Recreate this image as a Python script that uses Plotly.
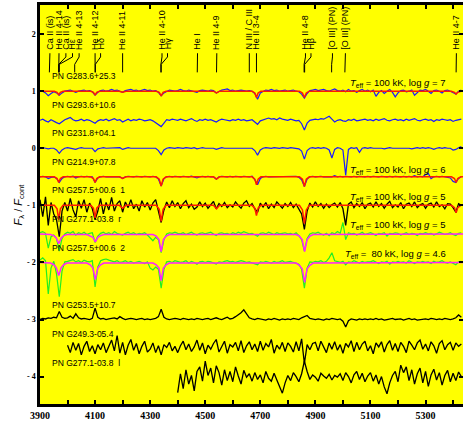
import plotly.graph_objects as go

# ---------------- wavelength grids (Angstrom) ----------------
wl = list(range(3900, 5440, 10))
wl_249 = list(range(4000, 5440, 10))
wl_277l = list(range(4400, 5440, 10))

# ---------------- observed spectra: deviations from continuum, in 0.01 F/Fcont ----------------
obs_283 = [1, 0, -3, -8, -4, -1, -3, -7, -3, 0,
           1, 2, 0, -2, 0, 1, 2, 0, 1, -1,
           -7, -2, 1, 2, 0, 1, 3, 1, 2, 0,
           -2, 1, 2, 3, 1, 2, 0, 1, 3, 1,
           2, 0, 1, -2, -8, -3, 0, 2, 1, 0,
           1, 3, 1, 0, 2, 1, 0, -2, 1, 2,
           1, 0, 2, 1, -3, 0, 2, 3, 4, 1,
           2, 0, 1, 2, 1, 0, 1, 0, -4, -14,
           -3, 0, 2, 1, 3, 1, 2, 0, 1, 2,
           0, 1, 2, 0, -1, -5, -12, -4, 1, 2,
           3, 1, 2, 3, 1, 0, 2, 4, 1, 0,
           2, -1, 3, 0, 1, -2, 1, 3, 0, 2,
           -1, 2, -9, -2, 1, -4, 0, 3, -2, -10,
           -3, 1, 2, -1, 0, 2, -7, -2, 2, 1,
           3, 0, -4, 1, 2, 0, -3, 1, 2, 0,
           -2, -5, 0, 2]
obs_293 = [0, 2, -1, -3, 1, -2, -4, -6, -2, 1,
           3, 5, 1, -1, 0, 2, -1, 1, 0, -2,
           -5, -1, 1, 0, 2, -1, 1, 3, 0, 1,
           -3, 0, 2, -1, 1, 0, 2, 1, -1, 0,
           1, -1, -4, -8, -11, -5, 1, 0, 2, 1,
           0, 2, 1, -1, 1, 3, 0, -2, 1, 0,
           2, 0, 1, -1, -3, 0, 2, 1, 0, -1,
           1, 0, 2, 0, 1, -1, 0, 1, -3, -7,
           -1, 1, 3, 4, 2, 3, 1, 4, 2, 1,
           0, 2, 1, -1, 0, -6, -17, -5, 0, 1,
           2, 1, 3, 2, 4, 7, 2, -3, 0, 1,
           -1, -2, 1, 0, 2, -1, 0, 1, 2, 0,
           1, -1, 2, 0, 1, 3, 0, -1, 1, 2,
           0, 1, -1, 2, 0, 1, 3, 0, -1, 1,
           2, 0, 1, -2, 1, 0, 2, 1, 0, 1,
           -2, 0, 1, 2]
obs_231 = [0, 1, 0, -1, 0, 0, -3, -9, -3, 0,
           1, 0, 0, -2, 0, 1, 0, 0, 1, 0,
           -6, -1, 0, 1, 0, 0, 1, 0, 0, 1,
           -2, 0, 1, 0, 0, 1, 0, 0, 1, 0,
           0, 1, 0, -4, -11, -3, 0, 1, 0, 0,
           1, 0, 0, 1, 0, 0, 1, -1, 0, 1,
           0, 0, 1, 0, -2, 0, 1, 0, 0, 1,
           0, 1, 0, 0, 1, 0, 0, 0, -4, -12,
           -3, 0, 1, 0, 0, 1, 0, 0, 1, 0,
           0, 1, 0, 0, -1, -5, -19, -4, 0, 1,
           0, 1, 0, 1, 0, -3, -17, -2, 1, 0,
           -3, -47, -2, 1, 0, 1, -7, 0, 1, 0,
           1, 0, 0, 1, 0, -1, 0, 1, 0, 0,
           1, 0, 1, 0, 0, -1, 0, 1, 0, 1,
           0, 1, 0, -2, 0, 1, 0, 1, 0, 0,
           -3, -2, 1, 3]
obs_214 = [0, 1, 0, -3, -1, 0, -3, -10, -3, 0,
           1, 0, 1, -2, 0, 1, 0, 1, 0, 0,
           -10, -2, 0, 1, 0, 0, 1, 0, 1, 0,
           -3, 0, 1, 0, 0, 1, 0, 0, 1, 0,
           0, 1, 0, -4, -16, -3, 0, 1, 0, 1,
           0, 0, 1, 0, 0, 1, 0, -2, 0, 1,
           0, 1, 0, 0, -4, 0, 1, 0, 0, 1,
           0, 1, 0, 0, 1, 0, 0, 1, -5, -14,
           -3, 0, 1, 0, 0, 1, 0, 1, 0, 0,
           1, 0, 0, 1, -1, -5, -17, -4, 0, 1,
           0, 1, 1, 0, 0, 1, 0, 2, 0, 1,
           0, 1, 0, 0, 1, 0, 1, 0, 0, 1,
           0, 1, 0, 0, 1, 0, 0, 1, 0, 1,
           0, 0, 1, 0, 1, 0, 2, 0, 1, 0,
           4, 6, -3, 0, 1, 0, 1, 0, 0, -2,
           -8, -10, -3, 0]
obs_257_1 = [10, -20, 15, -35, 5, -15, -25, -55, -10, 5,
             -10, 12, -8, -20, 8, -5, 10, -12, 4, -6,
             -25, -10, 12, -15, 5, -8, 14, -10, 3, 8,
             -12, 6, -4, 10, -6, 2, -10, 8, -3, 5,
             -8, 4, 10, -10, -30, -8, 6, -4, 8, -2,
             5, -6, 3, 8, -4, 2, -7, -3, 6, -2,
             4, -5, 2, 7, -6, 3, -2, 5, -4, 1,
             -3, 6, 0, -5, 4, 8, -2, 3, -6, -12,
             4, -3, 5, -6, 2, -4, 6, 0, -5, 3,
             -2, 5, -4, 2, -6, -15, -42, -10, 4, -3,
             6, -2, 3, -5, 2, -4, 1, 4, -3, 5,
             -6, -35, 2, 6, -4, 3, -2, 5, -6, 2,
             4, -3, 6, -2, 3, -5, 2, 7, -4, 1,
             -3, 5, -6, 2, 4, -2, 6, -4, 1, 3,
             -5, 2, 4, -3, 6, -2, 1, -6, 3, 2,
             -4, -12, 3, 0]
obs_277_r = [2, 4, 1, -25, -5, -2, -8, -30, -8, 0,
             3, 1, 4, -2, 2, 0, 3, -1, 1, 2,
             -15, -4, 1, 3, 0, 2, -1, 4, 1, 0,
             -2, 1, 3, 0, 2, -1, 1, 0, 2, -2,
             -8, -12, -6, -10, -33, -10, 0, 2, 1, 3,
             1, 0, 2, -1, 1, 3, 0, -2, 1, 2,
             0, 1, 3, 0, -3, 1, 2, 0, 1, -1,
             2, 0, 3, 1, 4, 2, 0, 1, -2, -4,
             1, 2, 0, 3, 1, -1, 2, 0, 1, 2,
             0, 1, -1, 2, -3, -10, -30, -8, 0, 2,
             1, 3, 0, -2, 1, -3, 2, 0, 4, 1,
             20, -10, 2, 0, 1, -2, 0, 3, -1, 1,
             2, 0, -3, 1, 0, 2, -4, 1, 0, 2,
             1, -2, 0, 2, -1, 1, 0, -3, 1, 0,
             2, 0, 1, -2, 0, 3, 1, -1, 0, 2,
             -1, -3, 1, 2]
obs_257_2 = [4, 8, 3, -55, -10, 2, -20, -60, -15, 1,
             2, 4, 5, 1, 3, 0, 4, 2, 1, 3,
             -43, -8, 3, 5, 6, 4, 2, 1, 3, 0,
             1, 3, 0, 2, -1, 1, 2, 0, -2, 1,
             -10, -13, -8, -12, -45, -12, 1, 2, 0, 3,
             2, 0, 1, 3, -1, 2, 0, -3, 1, 2,
             0, 2, 1, -1, -3, 1, 0, 2, 3, 1,
             2, 0, 1, 3, 2, 0, 1, -1, -2, -4,
             1, 0, 2, 1, -1, 2, 0, 1, 3, 0,
             1, 2, 0, -1, -3, -12, -45, -10, 1, 0,
             2, 1, 3, 0, 2, 8, 17, 3, 1, 0,
             2, -4, 1, 0, 3, 1, -1, 2, 0, 1,
             1, 3, 0, -2, 1, 0, 2, -3, 1, 0,
             2, 0, 1, -1, 3, 0, -2, 1, 0, 2,
             0, 1, -2, 2, 0, 1, 3, 0, -1, 1,
             -2, -4, 1, 2]
obs_253 = [0, 2, 1, 3, 2, 4, 3, 14, 4, 2,
           3, 6, 2, 10, 3, 1, 2, 1, 0, 2,
           20, 4, 1, 2, 0, 1, 2, 3, 1, 5,
           2, 0, 1, 2, 1, 0, 1, 2, 0, 1,
           0, 1, 2, 5, 18, 4, 1, 0, 1, 2,
           1, 0, 2, 1, 0, 1, 0, 2, 1, 0,
           1, 2, 0, 1, 3, 1, 0, 2, 4, 1,
           2, 5, 8, 12, 17, 9, 3, 1, 0, 2,
           1, 0, -1, 1, 0, 2, 0, -1, 1, 0,
           1, 0, 2, 1, 0, 3, 5, 7, 2, 1,
           0, 1, 0, -1, 1, 0, 2, 1, 0, 1,
           -3, -13, -2, 1, 0, -1, 1, 0, 1, 0,
           1, 0, 2, 0, 1, -1, 0, 1, 2, 0,
           0, 1, -1, 1, 2, 0, 1, -1, 0, 1,
           1, 0, 2, 1, 0, 1, 0, 2, 1, 0,
           1, 3, 8, 4]
obs_249 = [5, -8, 10, -4, 8, -12, 3, 12, -6, 4,
           -10, 6, -3, 9, -8, 2, 14, -5, 22, -9,
           10, -12, 5, 15, -4, 8, -10, 3, 12, -7,
           -2, 9, -8, 4, -12, 6, 1, 10, -5, 3,
           -8, 4, 12, -3, 7, -6, 2, 14, -4, 9,
           -10, 5, -2, 8, 15, -7, 3, 12, -9, 6,
           2, 10, -5, 13, -8, 4, 11, -3, 7, -6,
           12, -4, 8, 2, 15, -9, 5, -2, 10, -6,
           9, 3, -7, 11, -5, 16, -27, 6, -3, 8,
           10, -5, 12, 3, -8, 9, -2, 11, -4, 6,
           -9, 8, 2, 13, -6, 10, -3, 7, 12, -5,
           4, -10, 9, 2, 11, -7, 6, 13, -4, 8,
           -6, 10, 3, -8, 12, 5, -3, 9, 14, -2,
           7, -5, 11, 4, -9, 8, 13, -3, 6, 10,
           -4, 9, 3, 7]
obs_277_l = [-25, 8, -18, 15, -10, 5, -22, 12, 20, -5,
             30, 5, 18, -8, 22, 10, -12, 15, -4, 12,
             -6, 20, 4, -10, 14, 2, 8, -5, 10, -2,
             6, -8, 12, 0, -5, 9, -3, -14, -26, -8,
             5, -4, 10, 3, -6, 8, 30, 12, -2, 6,
             2, -5, 9, 4, 0, 7, -3, 5, 2, 8,
             -4, 10, 3, -8, 6, 12, -2, 9, -6, 4,
             10, -5, 6, -10, 3, -15, -27, -8, 5, 12,
             -6, 23, 10, 20, -4, 15, -10, 8, 18, -8,
             12, -14, 6, 16, -3, 10, -12, 5, 14, -6,
             9, -4, 11, 3]

# ---------------- model spectra (same units) ----------------
mod_x_narrow = [3900, 3952, 3962, 3968, 3974, 3984, 4084, 4094, 4100, 4106, 4116,
                4188, 4200, 4212, 4322, 4333, 4340, 4347, 4358, 4530, 4541, 4552,
                4670, 4680, 4686, 4692, 4702, 4842, 4853, 4860, 4867, 4878,
                5394, 5405, 5411, 5417, 5428, 5440]
mod_g7 = [0, 0, -2, -6, -2, 0, 0, -2, -7, -2, 0, 0, -2, 0, 0, -2, -8, -2, 0, 0, -3, 0,
          0, -3, -11, -3, 0, 0, -3, -11, -3, 0, 0, -2, -5, -2, 0, 0]
mod_g6 = [0, 0, -3, -10, -3, 0, 0, -3, -10, -3, 0, 0, -3, 0, 0, -4, -16, -4, 0, 0, -4, 0,
          0, -4, -14, -4, 0, 0, -4, -17, -4, 0, 0, -3, -10, -3, 0, 0]
mod_g5 = [0, 0, -6, -25, -6, 0, 0, -5, -22, -5, 0, 0, -5, 0, 0, -7, -28, -7, 0, 0, -6, 0,
          0, -5, -18, -5, 0, 0, -8, -32, -8, 0, 0, -4, -13, -4, 0, 0]
mod_x_broad = [3900, 3938, 3950, 3959, 3968, 3977, 3986, 3998,
               4070, 4082, 4092, 4101, 4110, 4120, 4132,
               4310, 4322, 4332, 4340, 4348, 4358, 4370,
               4830, 4842, 4852, 4861, 4870, 4880, 4892, 5440]
mod_g5b = [0, -1, -3, -7, -17, -7, -3, -1, -1, -3, -6, -14, -6, -3, -1,
           -1, -4, -10, -31, -10, -4, -1, -1, -4, -10, -31, -10, -4, -1, 0]
mod_g46 = [0, -1, -4, -9, -23, -9, -4, -1, -1, -4, -10, -30, -10, -4, -1,
           -1, -4, -10, -32, -10, -4, -1, -1, -5, -11, -35, -11, -5, -1, 0]

# ---------------- labels ----------------
pn_labels = ["PN G283.6+25.3", "PN G293.6+10.6", "PN G231.8+04.1", "PN G214.9+07.8",
             "PN G257.5+00.6\u00a0\u00a01", "PN G277.1-03.8\u00a0\u00a0r",
             "PN G257.5+00.6\u00a0\u00a02", "PN G253.5+10.7", "PN G249.3-05.4",
             "PN G277.1-03.8\u00a0\u00a0l"]
pn_label_y = [1.262, 0.753, 0.262, -0.247, -0.739, -1.231, -1.740, -2.741, -3.250, -3.760]
offsets = [1.0, 0.49, 0.0, -0.5, -1.0, -1.5, -2.0, -3.0, -3.5, -4.03]

model_labels = ["<i>T</i><sub>eff</sub> = 100 kK, log <i>g</i> = 7",
                "<i>T</i><sub>eff</sub> = 100 kK, log <i>g</i> = 6",
                "<i>T</i><sub>eff</sub> = 100 kK, log <i>g</i> = 5",
                "<i>T</i><sub>eff</sub> = 100 kK, log <i>g</i> = 5",
                "<i>T</i><sub>eff</sub> =\u00a0\u00a080 kK, log <i>g</i> = 4.6"]
model_label_y = [1.140, -0.388, -0.862, -1.336, -1.846]

line_ids = ["Ca II (is)", "He II 4-14", "Ca II (is)", "H\u03b5", "He II 4-13",
            "He II 4-12", "H\u03b4", "He II 4-11", "He II 4-10", "H\u03b3",
            "He I", "He II 4-9", "N III / C III", "He II 3-4", "He II 4-8", "H\u03b2",
            "[O III] (PN)", "[O III] (PN)", "He II 4-7"]
line_label_wl = [3936, 3969, 3994, 4018, 4042, 4100, 4120, 4200, 4343, 4363,
                 4472, 4542, 4660, 4686, 4864, 4884, 4962, 5009, 5412]
line_wl = [3934, 3968, 3968, 3970, 4026, 4100, 4101, 4200, 4339, 4340,
           4471, 4541, 4660, 4686, 4859, 4861, 4959, 5007, 5411]
marker_y = [1.665, 1.60, 1.47, 1.33]

BLUE = "#1a1aff"
RED = "#ff1a00"
GREEN = "#22ee22"
MAGENTA = "#ff22ff"
BLACK = "#000000"

fig = go.Figure()


def add(x, dev, off, color, width):
    fig.add_trace(go.Scatter(x=x, y=[off + v / 100.0 for v in dev], mode="lines",
                             line=dict(color=color, width=width), hoverinfo="skip",
                             showlegend=False))


add(wl, obs_283, offsets[0], BLUE, 1.2)
add(mod_x_narrow, mod_g7, offsets[0], RED, 1.5)
add(wl, obs_293, offsets[1], BLUE, 1.2)
add(wl, obs_231, offsets[2], BLUE, 1.2)
add(wl, obs_214, offsets[3], BLUE, 1.2)
add(mod_x_narrow, mod_g6, offsets[3], RED, 1.5)
add(wl, obs_257_1, offsets[4], BLACK, 1.3)
add(mod_x_narrow, mod_g5, offsets[4], RED, 1.5)
add(wl, obs_277_r, offsets[5], GREEN, 1.2)
add(mod_x_broad, mod_g5b, offsets[5], MAGENTA, 1.5)
add(wl, obs_257_2, offsets[6], GREEN, 1.2)
add(mod_x_broad, mod_g46, offsets[6], MAGENTA, 1.5)
add(wl, obs_253, offsets[7], BLACK, 1.3)
add(wl_249, obs_249, offsets[8], BLACK, 1.3)
add(wl_277l, obs_277_l, offsets[9], BLACK, 1.3)

# line identification markers
for lab, ln in zip(line_label_wl, line_wl):
    fig.add_trace(go.Scatter(x=[lab, lab, ln, ln], y=marker_y, mode="lines",
                             line=dict(color=BLACK, width=1), hoverinfo="skip",
                             showlegend=False))

ann = []
for t, lx in zip(line_ids, line_label_wl):
    ann.append(dict(x=lx, y=1.69, xref="x", yref="y", text=t, textangle=-90,
                    showarrow=False, xanchor="center", yanchor="bottom",
                    font=dict(family="Liberation Sans", size=9, color=BLACK)))
for t, ly in zip(pn_labels, pn_label_y):
    ann.append(dict(x=3938, y=ly, xref="x", yref="y", text=t, showarrow=False,
                    xanchor="left", yanchor="middle",
                    font=dict(family="Liberation Sans", size=8.5, color=BLACK)))
for t, ly in zip(model_labels, model_label_y):
    ann.append(dict(x=5380, y=ly, xref="x", yref="y", text=t, showarrow=False,
                    xanchor="right", yanchor="middle",
                    font=dict(family="Liberation Sans", size=9.5, color=BLACK)))
ann.append(dict(x=-0.052, y=0.5, xref="paper", yref="paper", textangle=-90,
                text="<i>F</i><sub>\u03bb</sub> / <i>F</i><sub>cont</sub>",
                showarrow=False, xanchor="center", yanchor="middle",
                font=dict(family="Liberation Sans", size=11, color=BLACK)))
ann.append(dict(x=0.525, y=-0.034, xref="paper", yref="paper", text="\u03bb / \u00c5",
                showarrow=False, xanchor="center", yanchor="top",
                font=dict(family="Liberation Serif", size=11, color=BLACK, weight="bold")))

x_tick_vals = [3900, 4100, 4300, 4500, 4700, 4900, 5100, 5300]
y_tick_vals = [2, 1, 0, -1, -2, -3, -4]
y_tick_text = ["2", "1", "0", "- 1", "- 2", "- 3", "- 4"]

fig.update_layout(
    width=463, height=421,
    margin=dict(l=40, r=0, t=5, b=17),
    paper_bgcolor="white", plot_bgcolor="#ffff00",
    annotations=ann,
    xaxis=dict(range=[3900, 5436], tickvals=x_tick_vals,
               ticktext=[str(v) for v in x_tick_vals],
               ticks="inside", ticklen=4, tickwidth=1.5, tickcolor=BLACK,
               minor=dict(tickvals=list(range(4000, 5440, 100)), ticks="inside",
                          ticklen=4, tickwidth=1.5, tickcolor=BLACK),
               showline=True, linewidth=2.5, linecolor=BLACK, mirror="ticks",
               showgrid=False, zeroline=False,
               tickfont=dict(family="Liberation Serif", size=10, color=BLACK, weight="bold")),
    yaxis=dict(range=[-4.48, 2.51], tickvals=y_tick_vals, ticktext=y_tick_text,
               ticks="inside", ticklen=4, tickwidth=1.5, tickcolor=BLACK,
               showline=True, linewidth=2.5, linecolor=BLACK,
               showgrid=False, zeroline=False,
               tickfont=dict(family="Liberation Serif", size=8, color=BLACK, weight="bold")),
    yaxis2=dict(range=[-4.48, 2.51], overlaying="y", side="right", tickvals=y_tick_vals,
                showticklabels=False, ticks="inside", ticklen=4, tickwidth=1.5,
                tickcolor=BLACK, showline=False, showgrid=False, zeroline=False),
)
# dummy trace to activate right mirror ticks
fig.add_trace(go.Scatter(x=[None], y=[None], yaxis="y2", showlegend=False, hoverinfo="skip"))

fig.write_html("out.html", config={"displayModeBar": False},
               post_script="document.body.style.margin='0';document.body.style.padding='0';")
